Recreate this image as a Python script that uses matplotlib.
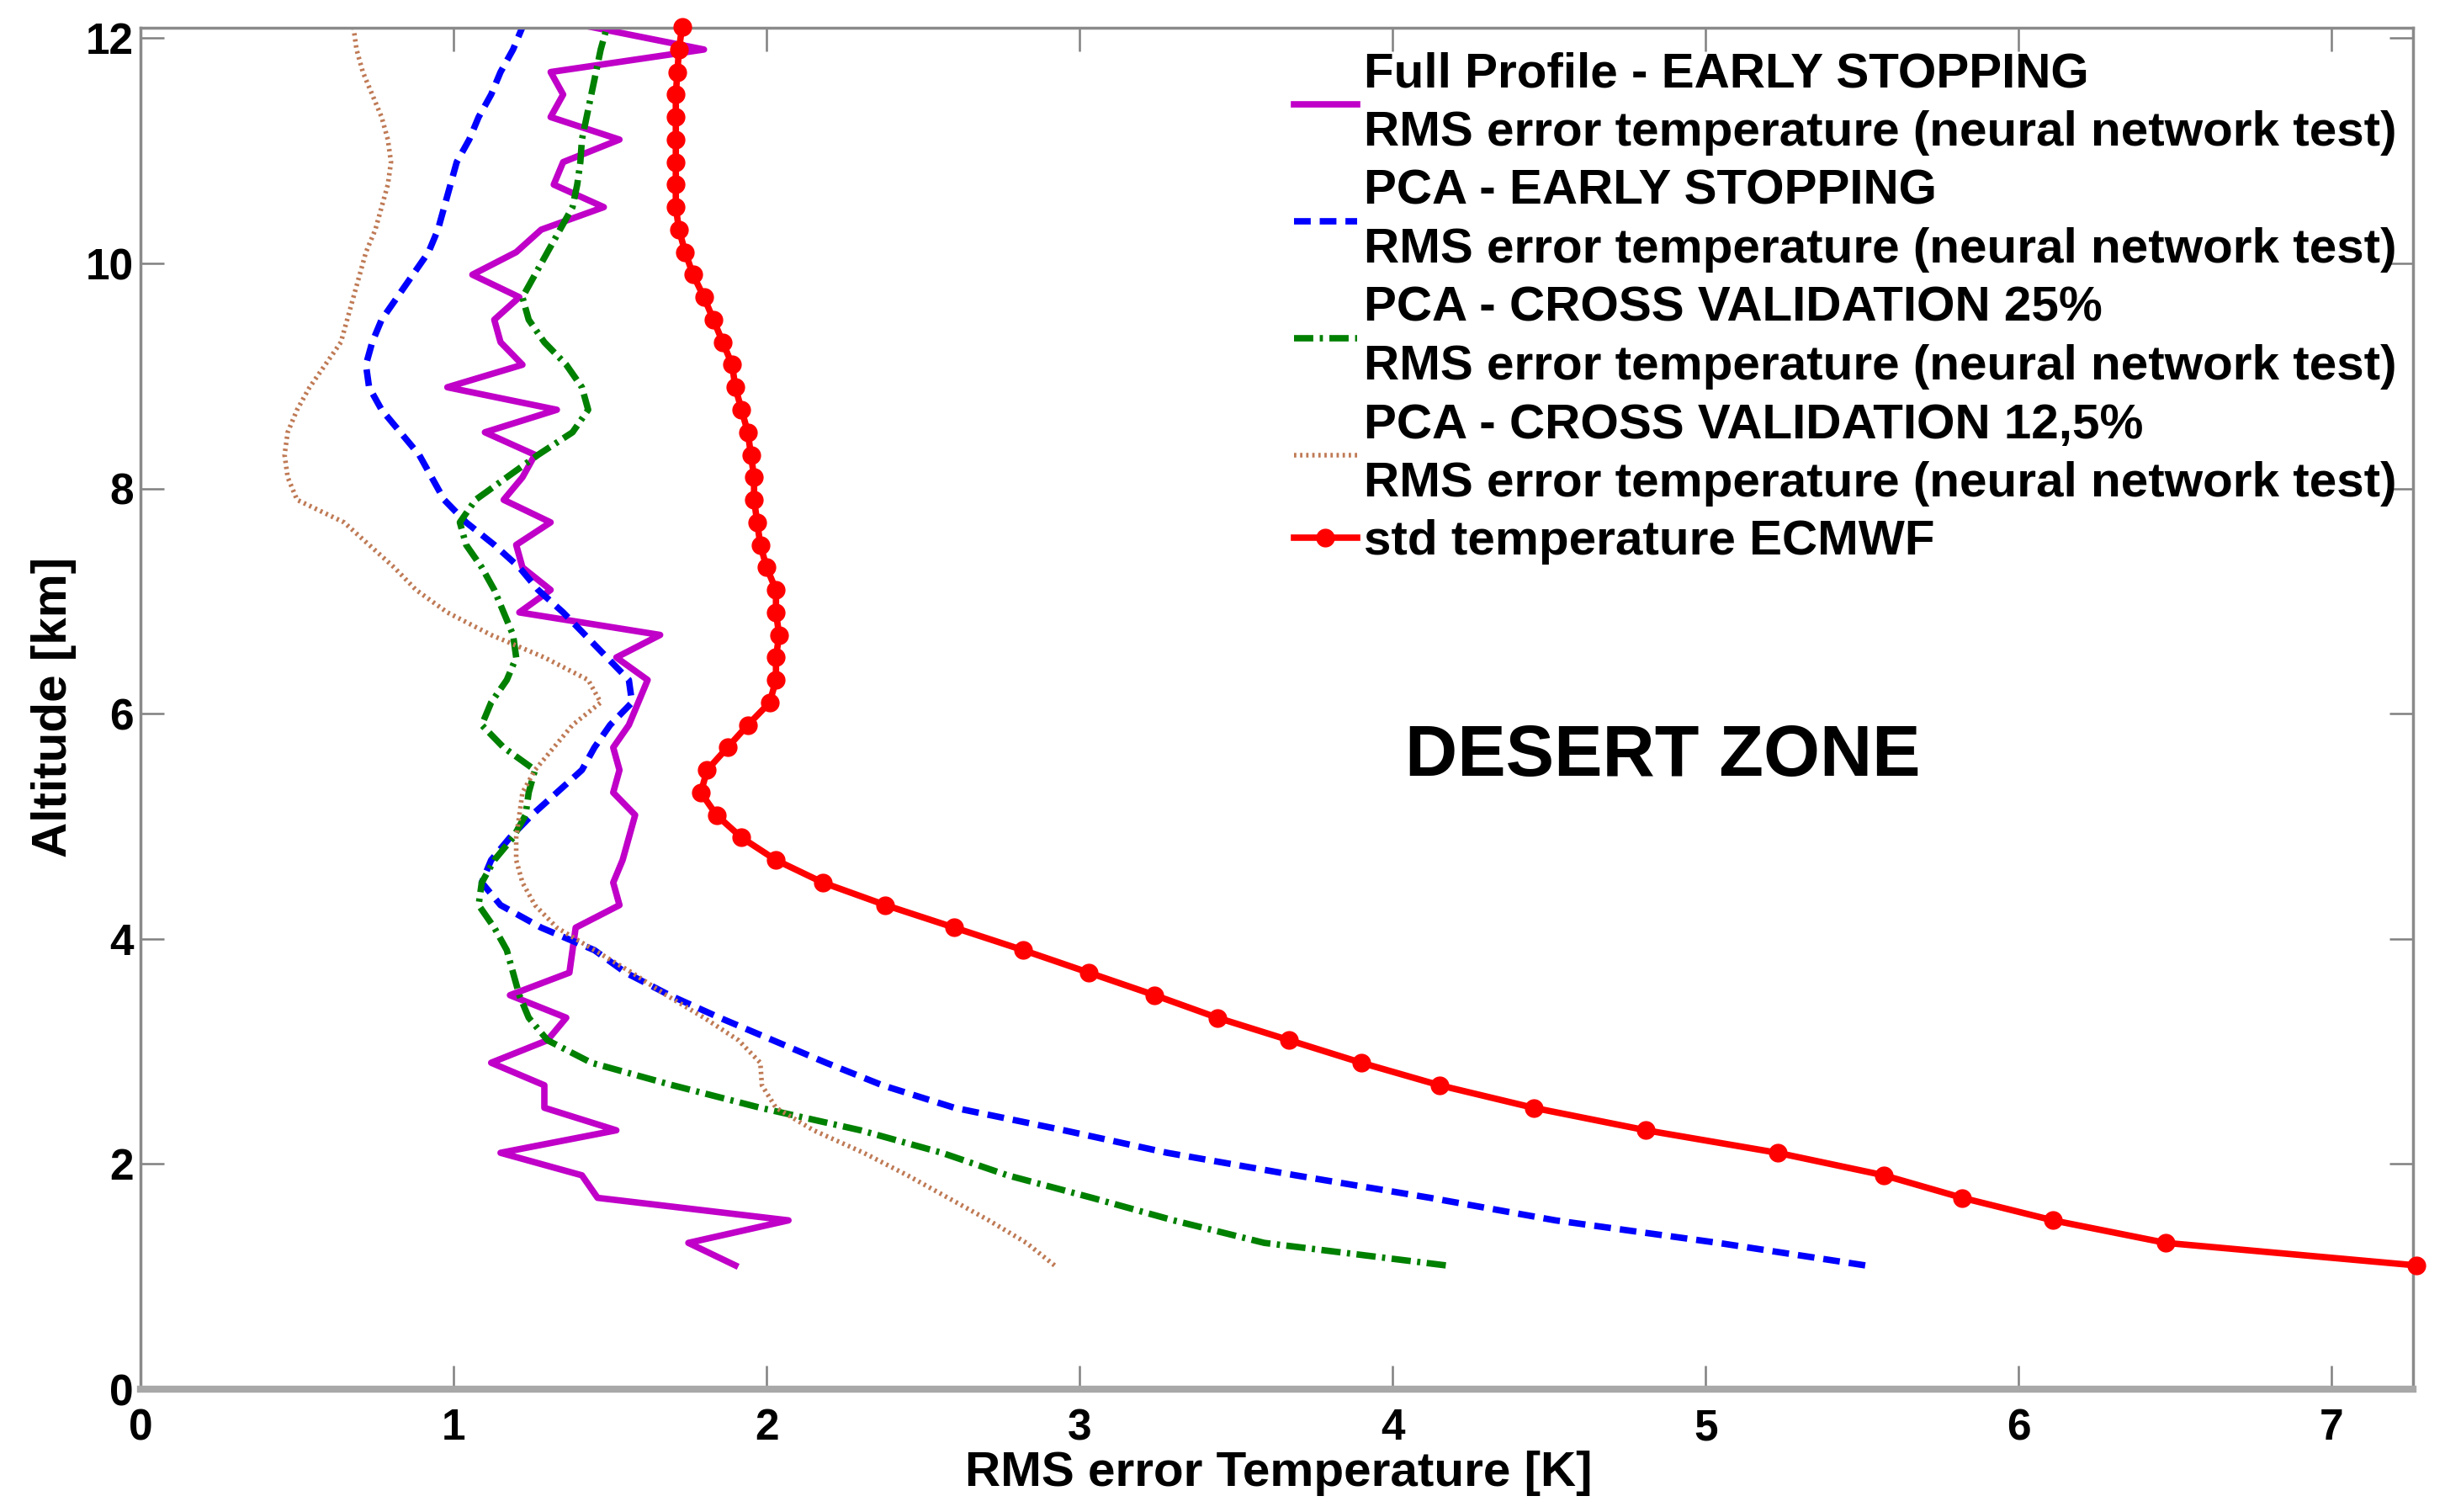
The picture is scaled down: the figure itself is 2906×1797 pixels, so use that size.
import numpy as np
import matplotlib
matplotlib.use("Agg")
import matplotlib.pyplot as plt

plt.rcParams['font.family'] = ['Liberation Sans', 'DejaVu Sans']
plt.rcParams['font.weight'] = 'bold'

# altitude grid [km], bottom to top (0.2 km step)
altitude = [1.1, 1.3, 1.5, 1.7, 1.9, 2.1, 2.3, 2.5, 2.7, 2.9,
            3.1, 3.3, 3.5, 3.7, 3.9, 4.1, 4.3, 4.5, 4.7, 4.9,
            5.1, 5.3, 5.5, 5.7, 5.9, 6.1, 6.3, 6.5, 6.7, 6.9,
            7.1, 7.3, 7.5, 7.7, 7.9, 8.1, 8.3, 8.5, 8.7, 8.9,
            9.1, 9.3, 9.5, 9.7, 9.9, 10.1, 10.3, 10.5, 10.7, 10.9,
            11.1, 11.3, 11.5, 11.7, 11.9, 12.1]

# Full Profile - early stopping
full_es = [1.90, 1.75, 2.07, 1.46, 1.41, 1.15, 1.52, 1.29, 1.29, 1.12,
           1.30, 1.36, 1.18, 1.37, 1.38, 1.39, 1.53, 1.51, 1.54, 1.56,
           1.58, 1.51, 1.53, 1.51, 1.56, 1.59, 1.62, 1.52, 1.66, 1.21,
           1.31, 1.22, 1.20, 1.31, 1.16, 1.22, 1.26, 1.10, 1.33, 0.98,
           1.22, 1.15, 1.13, 1.21, 1.06, 1.20, 1.28, 1.48, 1.32, 1.35,
           1.53, 1.31, 1.35, 1.31, 1.80, 1.44]

# PCA - early stopping
pca_es = [5.51, 5.04, 4.52, 4.12, 3.69, 3.28, 2.95, 2.60, 2.37, 2.19,
          2.02, 1.85, 1.69, 1.55, 1.45, 1.28, 1.15, 1.09, 1.12, 1.18,
          1.25, 1.33, 1.41, 1.45, 1.50, 1.57, 1.56, 1.49, 1.42, 1.35,
          1.27, 1.21, 1.13, 1.04, 0.97, 0.93, 0.89, 0.83, 0.77, 0.73,
          0.72, 0.74, 0.77, 0.82, 0.87, 0.92, 0.95, 0.97, 0.99, 1.01,
          1.05, 1.08, 1.12, 1.15, 1.19, 1.22]

# PCA - cross validation 25%
pca_cv25 = [4.17, 3.59, 3.30, 3.04, 2.77, 2.56, 2.30, 1.98, 1.70, 1.44,
            1.30, 1.24, 1.21, 1.19, 1.17, 1.13, 1.08, 1.09, 1.13, 1.19,
            1.23, 1.24, 1.26, 1.16, 1.09, 1.12, 1.17, 1.20, 1.19, 1.16,
            1.13, 1.09, 1.04, 1.02, 1.07, 1.17, 1.27, 1.38, 1.43, 1.41,
            1.36, 1.29, 1.24, 1.22, 1.26, 1.30, 1.34, 1.38, 1.395, 1.405,
            1.41, 1.425, 1.44, 1.455, 1.47, 1.49]

# PCA - cross validation 12,5%
pca_cv125 = [2.92, 2.83, 2.71, 2.58, 2.45, 2.31, 2.15, 2.03, 1.985, 1.98,
             1.91, 1.80, 1.68, 1.57, 1.45, 1.33, 1.26, 1.22, 1.20, 1.20,
             1.21, 1.22, 1.26, 1.32, 1.38, 1.47, 1.43, 1.29, 1.12, 0.98,
             0.88, 0.81, 0.73, 0.65, 0.50, 0.47, 0.46, 0.47, 0.50, 0.54,
             0.59, 0.64, 0.66, 0.68, 0.70, 0.72, 0.75, 0.77, 0.79, 0.80,
             0.79, 0.77, 0.74, 0.71, 0.69, 0.68]

# std temperature ECMWF
std_ecmwf = [7.27, 6.47, 6.11, 5.82, 5.57, 5.23, 4.81, 4.45, 4.15, 3.90,
             3.67, 3.44, 3.24, 3.03, 2.82, 2.60, 2.38, 2.18, 2.03, 1.92,
             1.84, 1.79, 1.81, 1.875, 1.94, 2.01, 2.03, 2.03, 2.04, 2.03,
             2.03, 2.00, 1.98, 1.97, 1.96, 1.96, 1.95, 1.94, 1.92, 1.90,
             1.89, 1.86, 1.83, 1.80, 1.765, 1.74, 1.72, 1.71, 1.71, 1.71,
             1.71, 1.71, 1.71, 1.715, 1.72, 1.73]

labels = ["Full Profile - EARLY STOPPING\nRMS error temperature (neural network test)",
          "PCA - EARLY STOPPING\nRMS error temperature (neural network test)",
          "PCA - CROSS VALIDATION 25%\nRMS error temperature (neural network test)",
          "PCA - CROSS VALIDATION 12,5%\nRMS error temperature (neural network test)",
          "std temperature ECMWF"]

fig = plt.figure(figsize=(29.06, 17.97), dpi=100)
ax = fig.add_axes([0.0575, 0.0812, 0.9294, 0.9002])

ax.plot(full_es, altitude, color='#c000c8', lw=5.5, label=labels[0])
ax.plot(pca_es, altitude, color='#0000ff', lw=5.5, dashes=(2.6, 1.4), label=labels[1])
ax.plot(pca_cv25, altitude, color='#008000', lw=5.5, dashes=(3.0, 1.0, 0.5, 1.0), label=labels[2])
ax.plot(pca_cv125, altitude, color='#bf7a55', lw=4, dashes=(0.5, 0.8), label=labels[3])
ax.plot(std_ecmwf, altitude, color='#ff0000', lw=5.5, marker='o', markersize=15,
        label=labels[4], clip_on=False, zorder=5)

ax.set_xlim(0, 7.26)
ax.set_ylim(0, 12.09)
ax.set_xticks(range(0, 8))
ax.set_yticks(range(0, 13, 2))

ax.tick_params(direction='in', length=20, width=1.8, color='#808080',
               top=True, right=True, labelsize=37)
ax.tick_params(axis='x', pad=16)
ax.tick_params(axis='y', pad=6)
for side in ['top', 'right', 'left']:
    ax.spines[side].set_color('#8a8a8a')
    ax.spines[side].set_linewidth(2.5)
ax.spines['bottom'].set_color('#a8a8a8')
ax.spines['bottom'].set_linewidth(6)

ax.set_xlabel("RMS error Temperature [K]", fontsize=42, fontweight='bold')
ax.set_ylabel("Altitude [km]", fontsize=42, fontweight='bold')
ax.xaxis.set_label_coords(0.501, -0.045)
ax.yaxis.set_label_coords(-0.028, 0.501)

ax.text(4.04, 5.45, "DESERT ZONE", fontsize=62, fontweight='bold',
        ha='left', va='baseline')

leg = ax.legend(loc='upper left', bbox_to_anchor=(1538 / 2906, 1 - 62 / 1797),
                bbox_transform=fig.transFigure, frameon=False, fontsize=42,
                handlelength=1.28, handletextpad=0.15, labelspacing=0.27,
                borderpad=0, borderaxespad=0)
for t in leg.get_texts():
    t.set_linespacing(1.36)

fig.savefig("out.png", dpi=100, facecolor='white')
